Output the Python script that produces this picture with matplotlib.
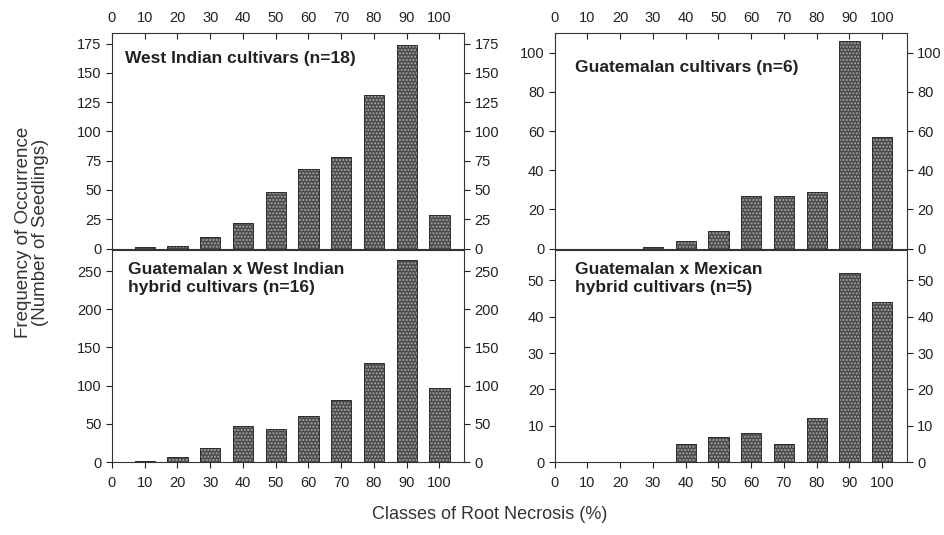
import matplotlib.pyplot as plt
import numpy as np

plt.rcParams['font.family'] = ['Liberation Sans', 'DejaVu Sans']

# necrosis classes (%) and seedling counts per panel
classes = [10, 20, 30, 40, 50, 60, 70, 80, 90, 100]
west_indian = [1, 2, 10, 22, 48, 68, 78, 131, 174, 29]
guatemalan = [0, 0, 1, 4, 9, 27, 27, 29, 106, 57]
guat_x_west = [1, 6, 18, 47, 43, 60, 81, 130, 265, 97]
guat_x_mex = [0, 0, 0, 5, 7, 8, 5, 12, 52, 44]

titles = ['West Indian cultivars (n=18)',
          'Guatemalan cultivars (n=6)',
          'Guatemalan x West Indian\nhybrid cultivars (n=16)',
          'Guatemalan x Mexican\nhybrid cultivars (n=5)']
series = [west_indian, guatemalan, guat_x_west, guat_x_mex]
ylims = [184, 110, 278, 58.5]
yticks = [np.arange(0, 176, 25), np.arange(0, 101, 20),
          np.arange(0, 251, 50), np.arange(0, 51, 10)]
xticks = np.arange(0, 101, 10)

fig = plt.figure(figsize=(9.45, 5.35), dpi=100)

lefts = [0.1185, 0.587]
width = 0.3725
top_y, top_h = 0.5355, 0.4025
bot_y, bot_h = 0.1364, 0.397

boxes = [(lefts[0], top_y, top_h), (lefts[1], top_y, top_h),
         (lefts[0], bot_y, bot_h), (lefts[1], bot_y, bot_h)]
title_pos = [(0.037, 0.915), (0.057, 0.875), (0.045, 0.94), (0.057, 0.94)]

for i, (x0, y0, h) in enumerate(boxes):
    ax = fig.add_axes([x0, y0, width, h])
    vals = series[i]
    ax.bar(classes, vals, width=6.2, facecolor='#4a4a4a', edgecolor='#a8a8a8',
           hatch='.....', linewidth=0, zorder=2)
    ax.bar(classes, vals, width=6.2, fill=False, edgecolor='#2e2e2e',
           linewidth=0.7, zorder=3)
    ax.set_xlim(0, 107.5)
    ax.set_ylim(0, ylims[i])
    ax.set_xticks(xticks)
    ax.set_yticks(yticks[i])
    ax.tick_params(labelsize=10.5, colors='#222222', length=4, width=0.8)
    ax.tick_params(axis='y', right=True, labelright=True)
    top_row = i < 2
    ax.tick_params(axis='x', top=top_row, labeltop=top_row,
                   bottom=not top_row, labelbottom=not top_row,
                   direction='in' if top_row else 'out', pad=6)
    for sp in ax.spines.values():
        sp.set_color('#333333')
        sp.set_linewidth(0.8)
    tx, ty = title_pos[i]
    ax.text(tx, ty, titles[i], transform=ax.transAxes,
            fontsize=12.5, fontweight='bold', va='top', ha='left',
            color='#222222', linespacing=1.25)

fig.text(0.034, 0.565, 'Frequency of Occurrence\n(Number of Seedlings)',
         rotation=90, ha='center', va='center', fontsize=13.5, color='#333333',
         linespacing=1.0)
fig.text(0.518, 0.022, 'Classes of Root Necrosis (%)', ha='center',
         va='bottom', fontsize=13, color='#333333')

fig.savefig('out.png', dpi=100)
